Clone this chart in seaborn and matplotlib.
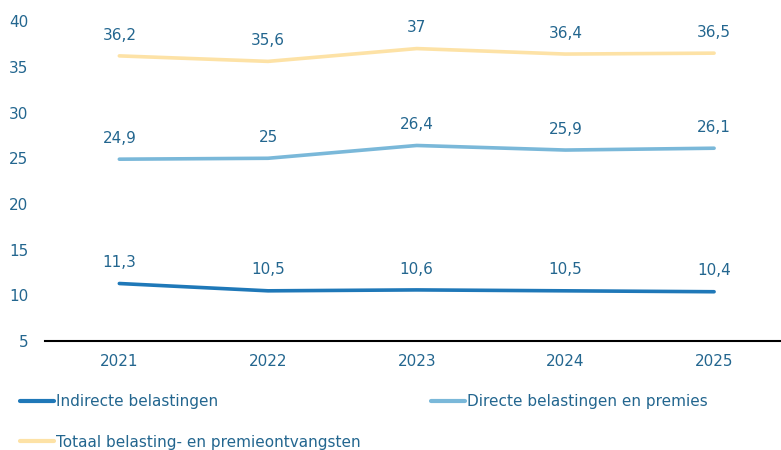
import pandas as pd
import matplotlib
matplotlib.use("Agg")
import matplotlib.pyplot as plt
import seaborn as sns

years = ["2021", "2022", "2023", "2024", "2025"]
indirect = [11.3, 10.5, 10.6, 10.5, 10.4]
direct = [24.9, 25.0, 26.4, 25.9, 26.1]
total = [36.2, 35.6, 37.0, 36.4, 36.5]

series_names = ["Indirecte belastingen", "Directe belastingen en premies",
                "Totaal belasting- en premieontvangsten"]
colors = ["#1f78b8", "#7ab8d9", "#fde2a6"]
text_color = "#23668f"

df = pd.DataFrame({
    "jaar": years * 3,
    "waarde": indirect + direct + total,
    "reeks": [series_names[0]] * 5 + [series_names[1]] * 5 + [series_names[2]] * 5,
})

sns.set_style("white")
plt.rcParams["font.family"] = ["DejaVu Sans"]

fig = plt.figure(figsize=(7.81, 4.5), dpi=100)
ax = fig.add_axes([0.0576, 0.242, 0.9424, 0.711])

sns.lineplot(data=df, x="jaar", y="waarde", hue="reeks", hue_order=series_names,
             palette=colors, linewidth=2.6, ax=ax, legend=False)

def fmt(v):
    s = f"{v:.1f}".replace(".", ",")
    return s[:-2] if s.endswith(",0") else s

for vals in [indirect, direct, total]:
    for i, v in enumerate(vals):
        ax.annotate(fmt(v), (i, v), xytext=(0, 15), textcoords="offset points",
                    ha="center", va="center", fontsize=11, color=text_color)

ax.set_ylim(5, 40)
ax.set_yticks(range(5, 41, 5))
ax.set_xlim(-0.5, 4.45)
ax.set_xlabel("")
ax.set_ylabel("")
ax.tick_params(axis="both", length=0, labelsize=11, labelcolor=text_color)
ax.tick_params(axis="y", pad=12)
ax.tick_params(axis="x", pad=9)
for side in ["left", "right", "top"]:
    ax.spines[side].set_visible(False)
ax.spines["bottom"].set_color("black")
ax.spines["bottom"].set_linewidth(1.5)

# legend: column 1 = indirect + total, column 2 = direct
handles = [plt.Line2D([], [], color=c, linewidth=3) for c in colors]
order = [0, 2, 1]
leg = fig.legend([handles[i] for i in order], [series_names[i] for i in order],
                 ncol=2, loc="upper left", bbox_to_anchor=(0.018, 0.137),
                 frameon=False, fontsize=11, handlelength=2.2, handletextpad=0.15,
                 labelspacing=1.65, columnspacing=4.6, borderaxespad=0)
for t in leg.get_texts():
    t.set_color(text_color)

fig.savefig("out.png", dpi=100)
